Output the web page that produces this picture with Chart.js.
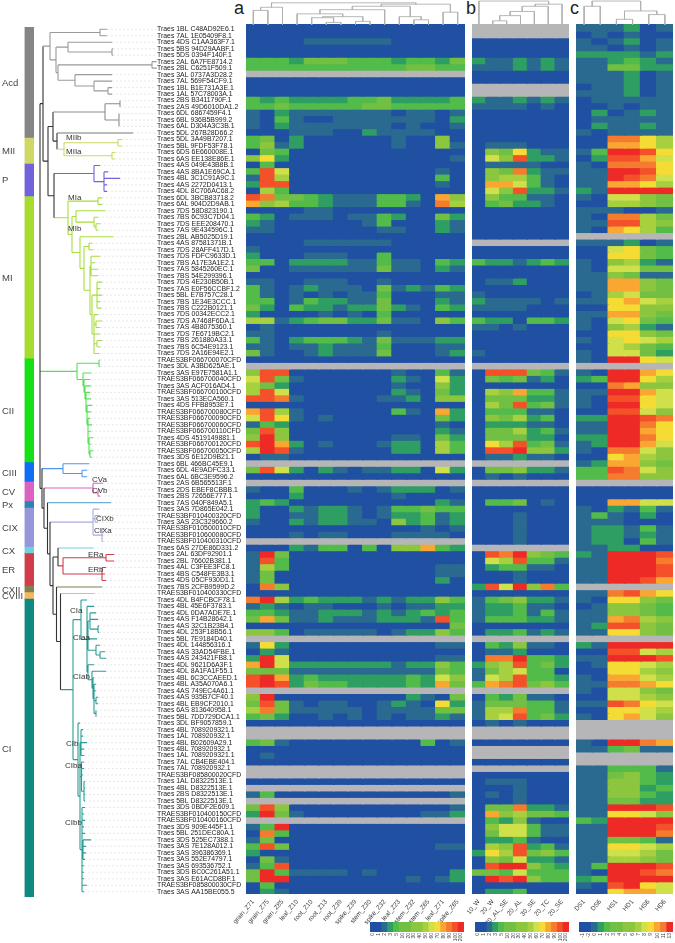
<!DOCTYPE html>
<html>
<head>
<meta charset="utf-8">
<title>heatmap</title>
<script src="https://cdn.jsdelivr.net/npm/chart.js@4"></script>
<style>
  html, body { margin: 0; padding: 0; background: #fff; }
  body { position: relative; width: 675px; height: 943px; overflow: hidden; }
  canvas { position: absolute; }
  .panel { position: absolute; top: -2px; font: 18px "Liberation Sans", Arial, sans-serif; color: #222; }
</style>
</head>
<body>
<span class="panel" style="left:234px">a</span>
<span class="panel" style="left:466px">b</span>
<span class="panel" style="left:570px">c</span>
<script>
var rowLabels = [
  "Traes 1BL C48AD92E6.1","Traes 7AL 1E05409F8.1","Traes 4DS C1AA363F7.1","Traes 5BS 94D29AABF.1","Traes 5DS 0394F140F.1",
  "Traes 2AL 6A7FE8714.2","Traes 2BL C6251F509.1","Traes 3AL 0737A3D28.2","Traes 7AL 569F54CF9.1","Traes 1BL B1E731A3E.1",
  "Traes 1AL 57C78003A.1","Traes 2BS B3411790F.1","Traes 2AS 49D6010DA1.2","Traes 6DL 6867459F4.1","Traes 6BL 936B5B999.2",
  "Traes 6AL D304A3C3B.1","Traes 5DL 267B28D66.2","Traes 5DL 3A49B7207.1","Traes 5BL 9FDF53F78.1","Traes 6DS 6E660008E.1",
  "Traes 6AS EE138E86E.1","Traes 4AS 049E43B8B.1","Traes 4AS 8BA1E69CA.1","Traes 4BL 3C1C91A9C.1","Traes 4AS 2272D0413.1",
  "Traes 4DL 8C706AC68.2","Traes 6DL 3BCB83718.2","Traes 6AL 904D2D9AB.1","Traes 7DS 58D823190.1","Traes 7BS 6C93C7D04.1",
  "Traes 7DS EEE208470.1","Traes 7AS 9E434596C.1","Traes 2BL AB5025D19.1","Traes 4AS 87581371B.1","Traes 7DS 28AFF417D.1",
  "Traes 7DS FDFC9633D.1","Traes 7BS A17E3A1E2.1","Traes 7AS 5845260EC.1","Traes 7BS 54E299396.1","Traes 7DS 4E230B50B.1",
  "Traes 7AS E0F56CCBF1.2","Traes 5BL E7B757C28.1","Traes 7BS 1E34E3CCC.1","Traes 7BS C222B0121.1","Traes 7DS 00342ECC2.1",
  "Traes 7DS A7468F6DA.1","Traes 7AS 4B8075360.1","Traes 7DS 7E6719BC2.1","Traes 7BS 261880A33.1","Traes 7BS 6C54E9123.1",
  "Traes 7DS 2A16E94E2.1","TRAES3BF066700070CFD","Traes 3DL A3BD625AE.1","Traes 3AS E97E7581A1.1","TRAES3BF066700040CFD",
  "Traes 3AS ACF016AD4.1","TRAES3BF066700100CFD","Traes 3AS 513ECA560.1","Traes 4DS FFB8953E7.1","TRAES3BF066700080CFD",
  "TRAES3BF066700090CFD","TRAES3BF066700060CFD","TRAES3BF066700110CFD","Traes 4DS 4519149881.1","TRAES3BF066700120CFD",
  "TRAES3BF066700050CFD","Traes 3DS 6E12D9B21.1","Traes 6BL 466BC45E9.1","Traes 6DL 4E9ADFC33.1","Traes 6AL 6BC3E9596.2",
  "Traes 2AS 6B565513F.1","Traes 2DS EBEF8CBBB.1","Traes 2BS 72656E777.1","Traes 7AS 040F849A5.1","Traes 3AS 7D865E042.1",
  "TRAES3BF010400320CFD","Traes 3AS 23C329660.2","TRAES3BF010500010CFD","TRAES3BF010600080CFD","TRAES3BF010400310CFD",
  "Traes 6AS 27DE86D331.2","Traes 2AL 63DF92901.1","Traes 2BL 76602B381.1","Traes 4AL C3FEE3FC8.1","Traes 4BS C548FE3B3.1",
  "Traes 4DS 05CF930D1.1","Traes 7BS 2CFB9599D.2","TRAES3BF010400330CFD","Traes 4DL B4FCBCF78.1","Traes 4BL 45E6F3783.1",
  "Traes 4DL 0DA7ADE7E.1","Traes 4AS F14B28642.1","Traes 4AS 32C1B23B4.1","Traes 4DL 253F18B56.1","Traes 5BL 7E9184D40.1",
  "Traes 4DL 144856316.1","Traes 4AS 33AD54FBE.1","Traes 4AS 243421FB8.1","Traes 4DL 9621D6A3F.1","Traes 4DL 8A1FA1F55.1",
  "Traes 4BL 6C3CCAEED.1","Traes 4BL A35A070A6.1","Traes 4AS 749EC4A61.1","Traes 4AS 935B7CF40.1","Traes 4BL EB9CF2010.1",
  "Traes 6AS 813640958.1","Traes 5BL 7DD729DCA1.1","Traes 3DL BF9057859.1","Traes 4BL 7089209321.1","Traes 1AL 708920932.1",
  "Traes 4BL B02609A29.1","Traes 4BL 708920932.1","Traes 1AL 7089209321.1","Traes 7AL CB4EBE404.1","Traes 7AL 708920932.1",
  "TRAES3BF085800020CFD","Traes 1AL D8322513E.1","Traes 4BL D8322513E.1","Traes 2BS D8322513E.1","Traes 5BL D8322513E.1",
  "Traes 3DS 0BDF2E609.1","TRAES3BF010400150CFD","TRAES3BF010400160CFD","Traes 3DS 909E445F1.1","Traes 5BL 251DEC80A.1",
  "Traes 3DS 525EC7388.1","Traes 3AS 7E128A012.1","Traes 3AS 396386369.1","Traes 3AS 552E74797.1","Traes 3AS 693536752.1",
  "Traes 3DS BC0C261A51.1","Traes 3AS E61ACD8BF.1","TRAES3BF085800030CFD","Traes 3AS AA15BE055.5"
];

var colsA = ["grain_Z71","grain_Z75","grain_Z85","leaf_Z10","root_Z10","root_Z13","root_Z39","spike_Z39","stem_Z30","spike_Z32","leaf_Z23","stem_Z32","stem_Z65","leaf_Z71","spike_Z65"];
var colsB = ["10_W","20_W","30_AL_SE","20_AL","30_SE","20_TC","20_SE"];
var colsC = ["DS1","DS6","HS1","HD1","HS6","HD6"];

// one string per row, one character per column: colour step of the legend (hex), x = no data
var heatA = [
  "000000000000000","000000000000000","000011111100000","000000000000000","000000000000000",
  "333244433323324","333333333334433","xxxxxxxxxxxxxxx","000000000000000","000000000000000",
  "000000000000000","323222233422223","334333334433333","102111111101101","103100111111102",
  "102111111101001","000111002111100","340200000010050","351200000010051","043000000000000",
  "582000000000001","030000000000000","3b7000000000010","1b6000000000030","2bb000000000010",
  "063000000000000","ba4432111332095","9563321113310a6","000011000000000","320111011320042",
  "210000001300021","110000000110021","000000000000000","000011111100000","100000000000000",
  "200011100300000","330222211311032","400111111411021","000000000000000","110011100100000",
  "310121110412132","310101011300011","330132211400021","420322122421032","200001010300000",
  "661234422411053","010000000000000","110000000100000","310233321411122","110112111300011",
  "410012111400012","000000000000000","xxxxxxxxxxxxxxx","5bb000000010031","7b4100000021072",
  "642000000010052","6b7000000021042","bba100000112055","000000000000000","9b6100000031092",
  "7b8101000000042","132000000000010","4b5000000000021","5c5000000011042","bc9201000122063",
  "6cb100000022063","011000000000000","xxxxxxxxxxxxxxx","4b7202101122072","000000000000000",
  "xxxxxxxxxxxxxxx","100300010122201","000200000010000","232000000000021","200212210133433",
  "200112210122312","100212211052312","000000000000101","000101100011110","xxxxxxxxxxxxxxx",
  "000213303055932","1c4000000000000","1b3000000000000","163000000000011","140000000000011",
  "140000000000020","0a5000000000000","000000000000000","ac6232221212253","121011000101122",
  "332112221212323","4941121112221b3","000000000000004","553011111012253","xxxxxxxxxxxxxxx",
  "182000000000011","021000000000000","2c7000000000011","9c7222222212253","444111111111143",
  "bc9232222223275","bcb243322223294","xxxxxxxxxxxxxxx","5c0000000002104","4b4101100121082",
  "6a4111110111144","342001010101121","000000000000000","xxxxxxxxxxxxxxx","xxxxxxxxxxxxxxx",
  "341000000000301","000000000000000","010000000000000","000000000000000","xxxxxxxxxxxxxxx",
  "xxxxxxxxxxxxxxx","000000000000000","xxxxxxxxxxxxxxx","130000000000001","xxxxxxxxxxxxxxx",
  "4b5000000000001","2c4100000000112","xxxxxxxxxxxxxxx","13c000000000000","0a3000000000000",
  "140000000000000","3b4000000000011","200000000000000","041000000000000","13b000000000000",
  "4c3111101000002","4cc000000001012","030000000000000","021000000000000"
];

var heatB = [
  "xxxxxxx","xxxxxxx","0000000","0000000","0000000","2112121","1112121","0000000","0000000","xxxxxxx",
  "xxxxxxx","2112121","1111010","0000000","0000000","0000000","0000000","0000000","0111000","0548211",
  "075b221","0111100","054a211","0566310","0997310","075b221","0533110","0342210","0000000","0000000",
  "0000000","0000000","0000000","xxxxxxx","0000000","0000000","3221232","0000000","0000000","0112000",
  "0000000","1000000","2111101","1111000","0000000","3220332","1101000","0000000","0000000","0000000",
  "1000000","0000000","xxxxxxx","0bbb431","0434120","0000000","0659331","0444221","064b341","0333110",
  "0546230","0222110","0446231","0444220","086b341","0bbc552","0112110","xxxxxxx","0445221","0101000",
  "xxxxxxx","0000000","0000000","0334010","0000000","0001000","0001000","0001000","0001000","0001000",
  "xxxxxxx","0bac543","076b331","0233110","0001000","0001000","2b7c5a3","0000000","1345221","1223110",
  "1223131","1333221","0000000","0223121","xxxxxxx","0325110","0112000","0aac332","256b342","1467330",
  "176b332","39ab453","xxxxxxx","0324110","1444331","166a331","167b342","0101000","xxxxxxx","xxxxxxx",
  "0000000","xxxxxxx","xxxxxxx","0000000","xxxxxxx","0000000","0111000","0001000","0101000","0001000",
  "044a221","0956443","0325100","0577311","0477311","0223100","065b231","286b453","0547221","0bcc532",
  "4437333","0cbc533","0000000","0223000"
];

var heatC = [
  "111201","010100","101201","110101","222212","112321","114422","111201","111201","011201",
  "111201","011111","001011","020121","011111","021121","101111","00aa86","009986","13ccb8",
  "02bb97","10aaa8","11ccb8","11cba7","119986","21cccc","107754","006654","111001","10aa64",
  "11bb65","109863","xxxxxx","111201","007843","008843","105621","107744","115411","119954",
  "119954","016744","118976","008855","119954","107843","105621","008854","107876","007643",
  "107742","10cc87","xxxxxx","10cc98","23cc86","00a955","11cc97","10bb87","10cc87","00bb75",
  "22ccba","11cca8","11cc98","22cca8","12cc97","10aa75","008965","129954","33ba75","33aa55",
  "xxxxxx","000000","000000","009977","102131","131020","111000","122131","122121","122031",
  "112200","21cccb","11ccca","11cccb","11cccb","11ccb9","xxxxxx","11ab98","108854","015543",
  "115543","119a65","12bb54","118854","xxxxxx","21cccc","00bb76","11cccb","018876","008865",
  "109976","11aa98","107754","007765","11ba87","008876","108975","xxxxxx","xxxxxx","xxxxxx",
  "10cca9","113411","xxxxxx","xxxxxx","113331","114532","115532","115523","115532","114422",
  "11cccb","118875","32cccc","11cccb","11ccca","114431","118876","117764","116654","13cccb",
  "10ccba","23cccc","10bc87","008997"
];

var stepColors = ["#2050a2","#2a6a90","#2f9e62","#52bb4a","#72c043","#8cc63f","#a6d03f","#d0e04a","#f4dc35","#faa633","#f57b2f","#f4502a","#ee2a27"];
var missingColor = "#b6b6b8";

var legendTicksA = ["0","1","2","3","5","10","20","30","40","50","60","70","80","90","100","200"];
var legendStepsA = [0,0,1,2,3,4,4,5,5,6,7,8,9,10,11,12];
var legendTicksB = ["0","1","2","3","5","10","20","30","40","50","60","70","80","90","100","200"];
var legendStepsB = [0,0,1,2,3,4,4,5,5,6,7,8,9,10,11,12];
var legendTicksC = ["-1","-2","0","1","2","3","4","5","6","7","8","9","10","11","13"];
var legendStepsC = [0,0,1,2,3,4,4,5,5,6,7,8,9,10,12];

var cladeNames = ["Acd","MII","P","MI","CII","CIII","CV","Px","CIX","CX","ER","CXII","CVIII","CI"];
var cladeSizes = [17,4,5,25,16,3,3,1,6,1,5,1,1,46];
var cladeColors = ["#858585","#cfd765","#7263dc","#a6dc30","#16e016","#0f6ef5","#dd62c0","#2a86b0","#9696dc","#70d0dc","#d03c48","#808050","#f8b860","#108a80"];

var treeLabels = ["MIIb","MIIa","MIa","MIb","CVa","CVb","CIXb","CIXa","ERa","ERb","CIa","CIaa","CIab","CIb","CIba","CIbb"];
var treeLabelRows = [16.7,18.9,26,30.8,69.5,71.2,75.5,77.4,81.1,83.4,89.7,93.9,99.9,110.2,113.5,122.4];
var treeLabelDist = [66,66,68,68,92,92,96,94,88,88,70,73,73,66,65,65];

// trees: [distance of node, child, child...], a plain number is a leaf and its tip distance
var acdUpper = [50, [100,107,107], [56, [68,112,[112,113,113]], [58, [152,157,157], [75,112,[94,112,[108,112,112]]]]]];
var acdLower = [105, [120,120,120], [119,119,119,119]];
var miiTree = [64, [118,122,122], [112,115,115]];
var pTree = [94, 100, [104,108,120,107,107]];
var miTree = [68, [98,102,102], [72, [76,105,[94,98,[96,100,98]]],
  [80,113,[84,[89,92,93],[90,[91,100,95,98,98],[92,[97,102,100,102,100,101],[94,98,[96,102,100],100,[97,102,100],99]]]]]]];
var ciiTree = [77, [99,100,100], [83,91,[84,90,[85,91,[86,90,[86,91,[87,92,[87,91,[88,90,[88,92,[88,91,[89,93,[89,91,[90,93,92]]]]]]]]]]]]]];
var ciiiTree = [63, 89, [82,87,87]];
var cvTree = [93, 103, [98,100,100]];
var cixTree = [93, 99, [95,100,98], [102,103,103,103]];
var erTree = [63, [106,114,114], [102,106,105,106]];
var ciTree = [73,
  [81,87,[87,94,[88,[90,96,98,[98,99,99]],[88,97,[96,100,[100,105,106]]]],[88,94,[92,106,[93,94,[94,96,96,[96,98,98],[96,96,96]]]]]]],
  [78,80,[80,[81,83,83,87,84,84],[81.5,84,84,83,[84,85,85,85,85]],[82,85,84,85,84,85,[83,91,86,86,85],84,84,84,87,84]]]];

var dendA = [21.3, [17,[14,0,0],0], [20,[18,[14.7,[10.7,0,[8,[7,0,[2.5,0,0]],[3.5,0,0]]],0],[8,0,[5,0,0]]],[12.3,0,0]]];
var dendB = [23, 0, [20,[18,[13,[9,[4,0,0],0],0],0],0]];
var dendC = [23, [18,0,0], [13.5,[5.5,0,0],[10,0,0]]];

function clade(col, node) { return { col: col, node: node }; }

var rootTree = [40,
  [43, clade("#9a9a9a", acdUpper),
    [48,
      [53, clade("#8c8c8c", acdLower), [57, clade("#777777", 133), clade(cladeColors[1], miiTree)]],
      [54, clade(cladeColors[2], pTree), clade("#a8dc40", miTree)]]],
  clade("#55e055", ciiTree),
  [42, clade("#4f97f0", ciiiTree),
    [44, clade(cladeColors[6], cvTree),
      [47.5, clade("#6fb0d6", 111),
        [50, clade("#aaaae2", cixTree),
          [53, [58, clade(cladeColors[9], 93), clade(cladeColors[10], erTree)],
            [56.5, clade(cladeColors[11], 102),
              [60.5, clade(cladeColors[12], 94), clade("#2a9d96", ciTree)]]]]]]]];

// walks a tree, collects segments per colour as {h, pos} pairs
function walkTree(node, col, cursor, segs, tips, parentH) {
  if (node && node.col) { col = node.col; node = node.node; }
  var res;
  if (typeof node === "number") {
    res = { pos: cursor.n++, h: node };
    if (tips) tips.push(res);
  } else {
    var kids = [];
    for (var i = 1; i < node.length; i++) kids.push(walkTree(node[i], col, cursor, segs, tips, node[0]));
    res = { pos: (kids[0].pos + kids[kids.length - 1].pos) / 2, h: node[0] };
    segs[col] = segs[col] || [];
    segs[col].push({ h: node[0], pos: kids[0].pos }, { h: node[0], pos: kids[kids.length - 1].pos }, null);
  }
  if (parentH !== undefined) {
    segs[col] = segs[col] || [];
    segs[col].push({ h: parentH, pos: res.pos }, { h: res.h, pos: res.pos }, null);
  }
  return res;
}

function addCanvas(left, top, w, h) {
  var c = document.createElement("canvas");
  c.width = w; c.height = h;
  c.style.left = left + "px"; c.style.top = top + "px";
  c.style.width = w + "px"; c.style.height = h + "px";
  document.body.appendChild(c);
  return c;
}

var rowTextPlugin = {
  id: "rowText",
  afterDraw: function(chart, args, opts) {
    if (!opts.names) return;
    var ctx = chart.ctx;
    ctx.save();
    ctx.font = opts.font;
    ctx.fillStyle = opts.color;
    ctx.textBaseline = "middle";
    for (var i = 0; i < opts.names.length; i++) {
      ctx.fillText(opts.names[i], opts.xs[i], chart.scales.y.getPixelForValue(opts.rows[i]));
    }
    ctx.restore();
  }
};
Chart.register(rowTextPlugin);
Chart.defaults.animation = false;
Chart.defaults.font.family = '"Liberation Sans", Arial, sans-serif';
Chart.defaults.plugins.legend.display = false;
Chart.defaults.plugins.tooltip.enabled = false;

function zeroPadding(scale) {
  scale.paddingLeft = 0; scale.paddingRight = 0; scale.paddingTop = 0; scale.paddingBottom = 0;
}

function stepColor(ch) {
  return ch === "x" ? missingColor : stepColors[parseInt(ch, 16)];
}

function heatChart(left, width, cols, rows) {
  var sets = rows.map(function(row, r) {
    return {
      data: cols.map(function() { return [r, r + 1.2]; }),
      backgroundColor: row.split("").map(stepColor),
      grouped: false, categoryPercentage: 1, barPercentage: 1.1, borderWidth: 0
    };
  });
  new Chart(addCanvas(left - 30, 24, width + 32, 919), {
    type: "bar",
    data: { labels: cols, datasets: sets },
    options: {
      responsive: false,
      layout: { padding: { left: 30, right: 2, top: 0, bottom: 0 } },
      scales: {
        x: {
          grid: { display: false, drawTicks: false }, border: { display: false },
          afterFit: function(s) { s.height = 49; zeroPadding(s); },
          ticks: { autoSkip: false, minRotation: 50, maxRotation: 50, padding: 4, color: "#444", font: { size: 6.5 } }
        },
        y: { display: false, reverse: true, min: 0, max: 134 }
      }
    }
  });
}

function dendChart(left, width, ncols, tree) {
  var segs = {};
  walkTree(tree, "#b0b0b0", { n: 0 }, segs);
  new Chart(addCanvas(left, 0, width, 25), {
    type: "scatter",
    data: { datasets: [{
      data: segs["#b0b0b0"].map(function(p) { return p ? { x: p.pos, y: p.h } : { x: null, y: null }; }),
      showLine: true, pointRadius: 0, borderColor: "#b0b0b0", borderWidth: 0.9, spanGaps: false
    }] },
    options: {
      responsive: false,
      scales: {
        x: { display: false, min: -0.5, max: ncols - 0.5 },
        y: { display: false, min: 0, max: 24 }
      }
    }
  });
}

function legendChart(left, width, ticks, steps) {
  new Chart(addCanvas(left - 6, 922, width + 10, 21), {
    type: "bar",
    data: { labels: ticks, datasets: [{
      data: ticks.map(function() { return [0, 1]; }),
      backgroundColor: steps.map(function(s) { return stepColors[s]; }),
      categoryPercentage: 1, barPercentage: 1.1, borderWidth: 0
    }] },
    options: {
      responsive: false,
      layout: { padding: { left: 6, right: 4, top: 0, bottom: 0 } },
      scales: {
        x: {
          grid: { display: false, drawTicks: false }, border: { display: false },
          afterFit: function(s) { s.height = 11; zeroPadding(s); },
          ticks: { autoSkip: false, minRotation: 90, maxRotation: 90, padding: 1, color: "#444", font: { size: 5 } }
        },
        y: { display: false, min: 0, max: 1 }
      }
    }
  });
}

// clade colour strip at far left
var cladeSets = [], cladeMid = [], start = 0;
cladeNames.forEach(function(n, i) {
  cladeSets.push({ data: [[start, start + cladeSizes[i]]], backgroundColor: cladeColors[i],
    grouped: false, categoryPercentage: 1, barPercentage: 1, borderWidth: 0 });
  cladeMid.push(start + cladeSizes[i] / 2 + 0.2);
  start += cladeSizes[i];
});
new Chart(addCanvas(0, 27, 36, 870), {
  type: "bar",
  data: { labels: [""], datasets: cladeSets },
  options: {
    responsive: false,
    layout: { padding: { left: 24.5, right: 2, top: 0, bottom: 0 } },
    scales: {
      x: { display: false },
      y: { display: false, reverse: true, min: 0, max: 134 }
    },
    plugins: { rowText: {
      names: cladeNames, rows: cladeMid, xs: cladeNames.map(function() { return 2; }),
      font: '9.5px "Liberation Sans", Arial, sans-serif', color: "#444"
    } }
  }
});

// phylogeny + row labels
var treeSegs = {}, treeTips = [];
walkTree(rootTree, "#333333", { n: 0 }, treeSegs, treeTips);
var treeSets = [];
treeSets.push({
  data: treeTips.reduce(function(a, t) { a.push({ x: t.h, y: t.pos }, { x: 156, y: t.pos }, { x: null, y: null }); return a; }, []),
  showLine: true, pointRadius: 0, borderColor: "#dedede", borderWidth: 0.7, borderDash: [2, 2], spanGaps: false
});
Object.keys(treeSegs).forEach(function(col) {
  treeSets.push({
    data: treeSegs[col].map(function(p) { return p ? { x: p.h, y: p.pos } : { x: null, y: null }; }),
    showLine: true, pointRadius: 0, borderColor: col, borderWidth: 1.1, spanGaps: false
  });
});
new Chart(addCanvas(0, 26, 246, 869), {
  type: "scatter",
  data: { datasets: treeSets },
  options: {
    responsive: false,
    scales: {
      x: { display: false, min: 0, max: 157 },
      y: {
        position: "right", reverse: true, min: -0.5, max: 133.5,
        grid: { display: false, drawTicks: false }, border: { display: false },
        afterFit: function(s) { s.width = 89; zeroPadding(s); },
        afterBuildTicks: function(s) { s.ticks = rowLabels.map(function(l, i) { return { value: i }; }); },
        ticks: {
          autoSkip: false, padding: 0, crossAlign: "near",
          color: "#222", font: { size: 6.9 },
          callback: function(v) { return rowLabels[v]; }
        }
      }
    },
    plugins: { rowText: {
      names: treeLabels, rows: treeLabelRows, xs: treeLabelDist,
      font: '8px "Liberation Sans", Arial, sans-serif', color: "#333"
    } }
  }
});

heatChart(246, 219, colsA, heatA);
heatChart(472, 97, colsB, heatB);
heatChart(576, 97, colsC, heatC);

dendChart(246, 219, colsA.length, dendA);
dendChart(472, 97, colsB.length, dendB);
dendChart(576, 97, colsC.length, dendC);

legendChart(370, 94, legendTicksA, legendStepsA);
legendChart(475, 94, legendTicksB, legendStepsB);
legendChart(579, 94, legendTicksC, legendStepsC);
</script>
</body>
</html>
